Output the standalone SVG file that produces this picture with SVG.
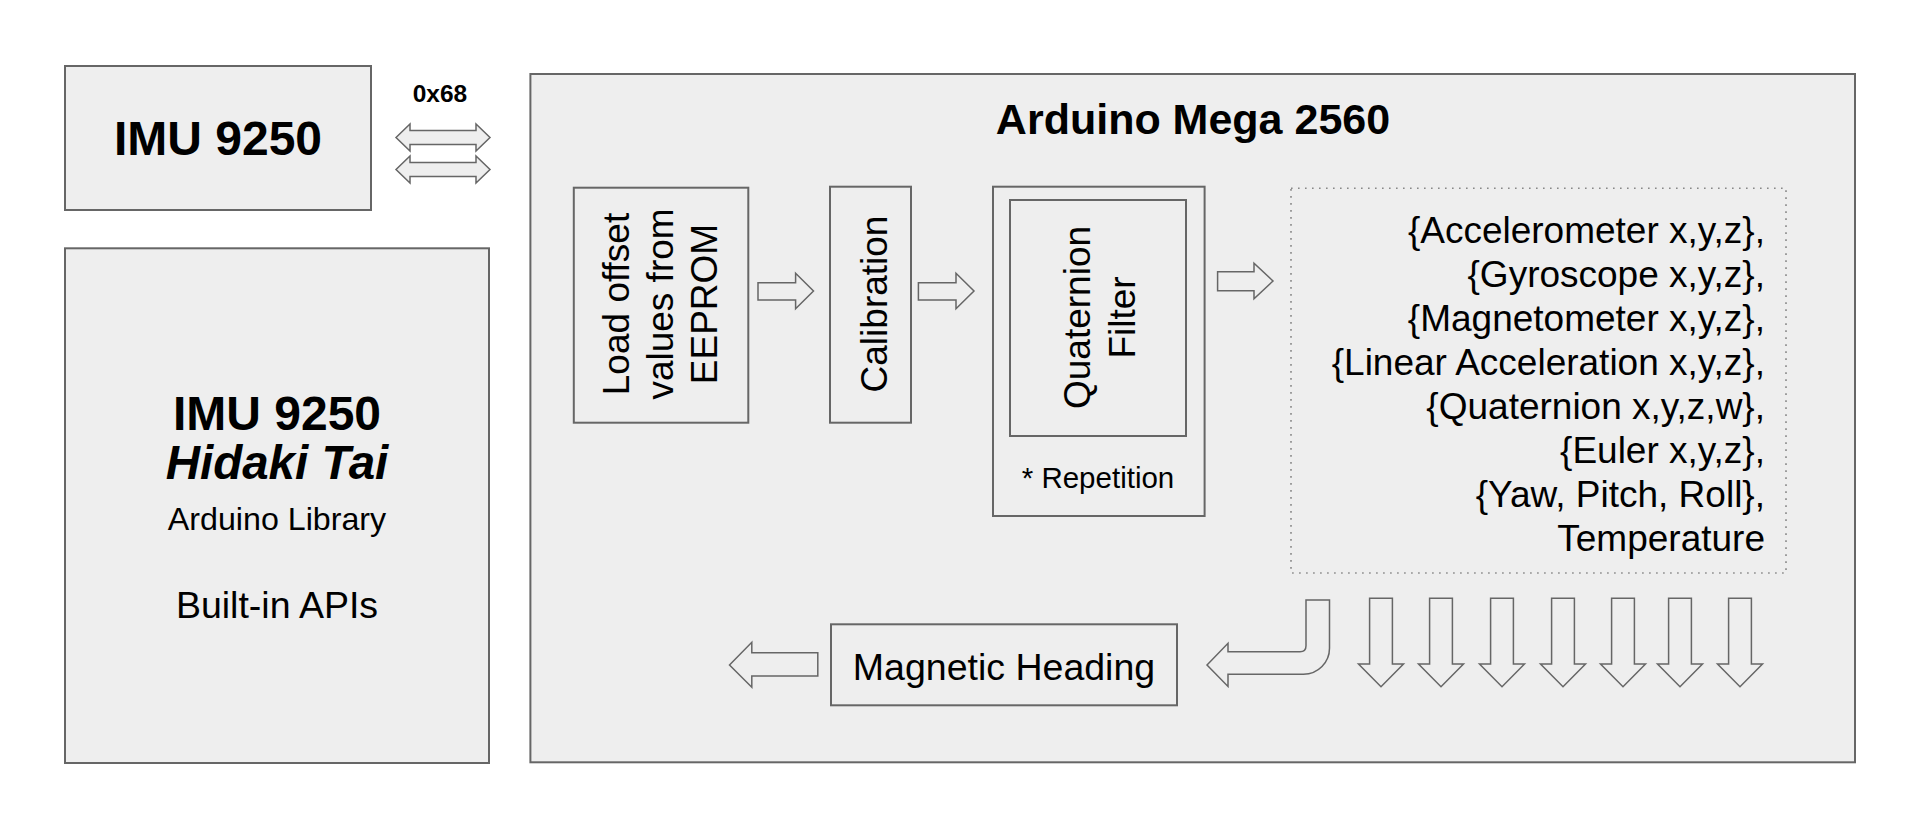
<svg xmlns="http://www.w3.org/2000/svg" width="1917" height="814" viewBox="0 0 1917 814">
<style>
  .box{fill:#eeeeee;stroke:#666666;stroke-width:2}
  .inbox{fill:none;stroke:#666666;stroke-width:2}
  .dots{fill:none;stroke:#888888;stroke-width:1.6;stroke-dasharray:1.6 5.4}
  .arr{fill:#eeeeee;stroke:#666666;stroke-width:1.5;stroke-linejoin:miter}
  text{font-family:"Liberation Sans",Arial,sans-serif;fill:#000000}
  .b{font-weight:bold}
  .mid{text-anchor:middle}
  .end{text-anchor:end}
  .t{font-size:37px}
</style>
<rect width="1917" height="814" fill="#ffffff"/>

<g id="imu">
  <rect class="box" x="65" y="66" width="306" height="144"/>
  <text class="b mid" x="218" y="155" font-size="48">IMU 9250</text>
</g>

<g id="library">
  <rect class="box" x="65" y="248.3" width="424" height="514.7"/>
  <text class="b mid" x="277" y="430" font-size="48">IMU 9250</text>
  <text class="b mid" x="277" y="479.3" font-size="47.5" font-style="italic">Hidaki Tai</text>
  <text class="mid" x="277" y="530" font-size="32.2">Arduino Library</text>
  <text class="mid" x="277" y="617.7" font-size="37.5">Built-in APIs</text>
</g>

<g id="arduino">
  <rect class="box" x="530.4" y="74" width="1324.6" height="688.3"/>
  <text class="b mid" x="1193" y="133.5" font-size="43">Arduino Mega 2560</text>
</g>

<g id="load">
  <rect class="inbox" x="573.8" y="187.7" width="174.5" height="235"/>
  <g transform="translate(661,304) rotate(-90)">
    <text class="mid t" x="0" y="-32">Load offset</text>
    <text class="mid t" x="0" y="12">values from</text>
    <text class="mid t" x="0" y="56">EEPROM</text>
  </g>
</g>

<g id="calibration">
  <rect class="inbox" x="830" y="186.7" width="81" height="236"/>
  <g transform="translate(870.5,304) rotate(-90)">
    <text class="mid t" x="0" y="16.5">Calibration</text>
  </g>
</g>

<g id="quaternion">
  <rect class="inbox" x="993" y="186.7" width="211.6" height="329.3"/>
  <rect class="inbox" x="1010" y="200" width="176" height="236"/>
  <g transform="translate(1098,317.5) rotate(-90)">
    <text class="mid t" x="0" y="-8.5">Quaternion</text>
    <text class="mid t" x="0" y="37">Filter</text>
  </g>
  <text class="mid" x="1098" y="488" font-size="29.5">* Repetition</text>
</g>

<g id="outputs">
  <rect class="dots" x="1291" y="188.3" width="495" height="384.7"/>
  <text class="end t" x="1765" y="242.7">{Accelerometer x,y,z},</text>
  <text class="end t" x="1765" y="286.7">{Gyroscope x,y,z},</text>
  <text class="end t" x="1765" y="330.7">{Magnetometer x,y,z},</text>
  <text class="end t" x="1765" y="374.7">{Linear Acceleration x,y,z},</text>
  <text class="end t" x="1765" y="418.7">{Quaternion x,y,z,w},</text>
  <text class="end t" x="1765" y="462.7">{Euler x,y,z},</text>
  <text class="end t" x="1765" y="506.7">{Yaw, Pitch, Roll},</text>
  <text class="end t" x="1765" y="550.7">Temperature</text>
</g>

<g id="heading">
  <rect class="inbox" x="831" y="624.3" width="346" height="81"/>
  <text class="mid" x="1004" y="680" font-size="37.5">Magnetic Heading</text>
</g>

<g id="connectors">
  <text class="b mid" x="440" y="102" font-size="24.5">0x68</text>
  <polygon class="arr" points="396,137.5 410,124 410,130.5 476,130.5 476,124 490,137.5 476,151 476,144.5 410,144.5 410,151"/>
  <polygon class="arr" points="396,169.5 410,156 410,162.5 476,162.5 476,156 490,169.5 476,183 476,176.5 410,176.5 410,183"/>
  <polygon class="arr" points="758,282.7 795.6,282.7 795.6,273.3 813.5,291 795.6,308.7 795.6,300 758,300"/>
  <polygon class="arr" points="918.4,282.7 956,282.7 956,273.3 974,291 956,308.7 956,300 918.4,300"/>
  <polygon class="arr" points="1217.6,271.7 1254,271.7 1254,263.3 1273,281 1254,298.7 1254,290.7 1217.6,290.7"/>
  <polygon class="arr" points="729.5,665 751.8,642.3 751.8,652.7 817.8,652.7 817.8,676 751.8,676 751.8,687.3"/>
  <path class="arr" d="M1207,665 L1228,643.3 L1228,651.7 L1300,651.7 Q1306,651.7 1306,645.7 L1306,600 L1329.5,600 L1329.5,648 A26,26 0 0 1 1303.5,674.3 L1228,674.3 L1228,686.5 Z"/>
  <g id="downs">
    <polygon class="arr" points="1369.6,598.3 1392.4,598.3 1392.4,664 1403.5,664 1381,686.7 1358.5,664 1369.6,664"/>
    <polygon class="arr" points="1429.6,598.3 1452.4,598.3 1452.4,664 1463.5,664 1441,686.7 1418.5,664 1429.6,664"/>
    <polygon class="arr" points="1490.6,598.3 1513.4,598.3 1513.4,664 1524.5,664 1502,686.7 1479.5,664 1490.6,664"/>
    <polygon class="arr" points="1551.6,598.3 1574.4,598.3 1574.4,664 1585.5,664 1563,686.7 1540.5,664 1551.6,664"/>
    <polygon class="arr" points="1611.6,598.3 1634.4,598.3 1634.4,664 1645.5,664 1623,686.7 1600.5,664 1611.6,664"/>
    <polygon class="arr" points="1668.6,598.3 1691.4,598.3 1691.4,664 1702.5,664 1680,686.7 1657.5,664 1668.6,664"/>
    <polygon class="arr" points="1728.6,598.3 1751.4,598.3 1751.4,664 1762.5,664 1740,686.7 1717.5,664 1728.6,664"/>
  </g>
</g>
</svg>
